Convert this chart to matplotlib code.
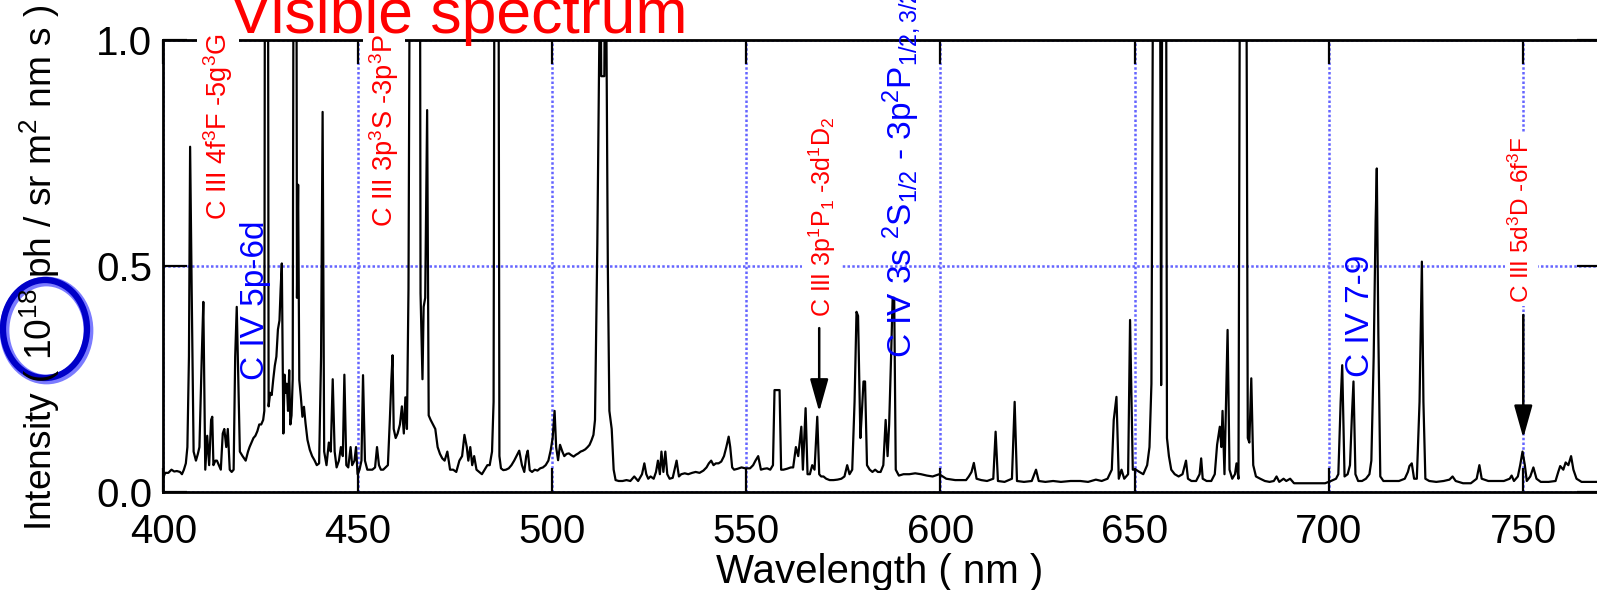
import matplotlib
matplotlib.use("Agg")
import matplotlib.pyplot as plt
from matplotlib.patches import Ellipse

plt.rcParams['font.family'] = ['Liberation Sans', 'DejaVu Sans']
plt.rcParams['mathtext.fontset'] = 'custom'
plt.rcParams['mathtext.rm'] = 'Liberation Sans'
plt.rcParams['mathtext.it'] = 'Liberation Sans:italic'
plt.rcParams['mathtext.bf'] = 'Liberation Sans:bold'

# spectrum, wavelength in nm and intensity in 1e18 ph / sr m2 nm s
wavelength = [
    400.0, 400.5, 401.3, 402.1, 402.8, 403.5, 404.3, 404.8, 405.3, 405.8,
    406.2, 406.6, 406.9, 407.3, 407.8, 408.4, 408.9, 409.3, 409.9, 410.3,
    410.8, 411.3, 411.8, 412.3, 412.6, 412.9, 413.4, 413.8, 414.3, 414.8,
    415.3, 415.7, 416.2, 416.6, 417.1, 417.6, 418.1, 418.5, 418.9, 419.3,
    419.7, 420.4, 421.2, 421.8, 422.2, 422.7, 423.2, 423.7, 424.2, 424.7,
    425.2, 425.7, 426.0, 426.2, 426.9, 427.1, 427.5, 427.9, 428.3, 428.7,
    429.1, 429.5, 429.9, 430.2, 430.5, 430.9, 431.2, 431.5, 431.8, 432.1,
    432.4, 432.7, 433.0, 433.3, 433.6, 434.2, 434.4, 434.7, 435.0, 435.4,
    435.8, 436.2, 436.6, 437.1, 437.7, 438.3, 438.9, 439.5, 440.1, 440.6,
    441.0, 441.4, 442.0, 442.6, 443.1, 443.6, 444.1, 444.6, 445.2, 445.7,
    446.2, 446.6, 447.1, 447.6, 448.2, 448.6, 449.2, 449.6, 450.0, 450.5,
    451.0, 451.4, 451.9, 452.5, 453.1, 453.8, 454.5, 455.0, 455.5, 456.0,
    456.6, 457.2, 457.8, 458.3, 458.7, 459.0, 459.3, 459.8, 460.3, 460.9,
    461.4, 461.9, 462.3, 462.7, 463.1, 463.6, 466.0, 466.2, 466.7, 467.0,
    467.4, 467.9, 468.3, 468.8, 469.4, 470.0, 470.6, 471.2, 471.8, 472.4,
    473.1, 473.8, 474.6, 475.4, 476.2, 476.9, 477.5, 478.1, 478.5, 479.0,
    479.5, 480.0, 480.6, 481.3, 482.0, 482.7, 483.4, 484.0, 484.6, 485.0,
    485.3, 486.2, 486.5, 486.9, 487.5, 488.2, 488.9, 489.6, 490.3, 490.9,
    491.6, 492.3, 492.9, 493.4, 493.8, 494.3, 494.9, 495.6, 496.3, 497.0,
    497.7, 498.4, 499.1, 499.7, 500.2, 500.7, 501.1, 501.6, 502.1, 502.7,
    503.2, 503.8, 504.4, 505.0, 505.6, 506.2, 506.8, 507.4, 508.0, 508.6,
    509.2, 509.7, 510.2, 510.7, 511.1, 511.7, 512.3, 512.6, 512.7, 513.5,
    513.6, 514.0, 514.4, 514.8, 515.4, 515.9, 516.4, 517.2, 518.2, 519.2,
    520.2, 521.2, 522.2, 523.2, 523.8, 524.3, 524.8, 525.4, 526.2, 526.8,
    527.3, 527.8, 528.2, 528.7, 529.2, 529.7, 530.3, 531.1, 532.1, 532.7,
    533.3, 534.2, 535.1, 536.1, 537.0, 538.0, 539.0, 539.8, 540.4, 541.0,
    541.6, 542.2, 542.9, 543.6, 544.3, 544.9, 545.5, 545.9, 546.4, 546.9,
    547.8, 548.8, 549.8, 551.0, 551.8, 552.4, 553.1, 553.8, 554.6, 555.4,
    556.2, 556.9, 557.3, 558.6, 559.0, 559.6, 560.5, 561.5, 562.1, 562.8,
    563.4, 564.2, 564.6, 565.3, 565.8, 566.4, 567.0, 567.6, 568.3, 568.8,
    569.3, 569.9, 570.6, 571.5, 572.5, 573.5, 574.5, 575.3, 576.0, 576.6,
    577.3, 577.9, 578.4, 578.8, 579.4, 579.8, 580.2, 580.6, 581.1, 581.8,
    582.5, 583.2, 583.9, 584.6, 585.3, 585.9, 586.4, 586.8, 587.3, 587.7,
    588.1, 588.5, 589.3, 590.5, 592.0, 593.5, 595.0, 596.5, 598.0, 599.7,
    601.5, 603.8, 606.6, 607.3, 608.0, 608.6, 609.3, 610.5, 612.0, 613.6,
    614.2, 614.8, 616.5, 618.4, 619.1, 619.7, 621.5, 623.5, 624.6, 625.3,
    627.0, 629.0, 631.0, 633.5, 636.0, 638.0, 640.0, 641.5, 643.0, 644.1,
    644.6, 645.3, 645.9, 646.6, 647.3, 648.3, 648.8, 649.5, 650.3, 651.2,
    652.2, 653.2, 653.8, 654.3, 654.9, 656.4, 656.8, 657.2, 658.0, 658.3,
    658.8, 659.4, 660.3, 661.3, 662.3, 663.2, 663.7, 664.6, 665.8, 666.7,
    667.1, 667.5, 668.5, 669.7, 670.6, 671.2, 671.9, 672.3, 672.6, 673.1,
    673.9, 674.4, 675.1, 675.8, 676.2, 676.7, 677.2, 678.6, 679.1, 679.5,
    680.0, 680.5, 681.2, 682.3, 683.5, 684.7, 685.8, 686.5, 687.2, 688.3,
    689.0, 690.0, 691.0, 693.0, 695.0, 697.0, 699.0, 700.5, 701.8, 702.4,
    703.0, 703.4, 704.0, 704.8, 705.4, 705.9, 706.3, 706.8, 707.5, 708.5,
    709.5, 710.4, 710.9, 711.5, 712.0, 712.3, 712.7, 713.2, 714.0, 716.0,
    718.0, 719.5, 720.3, 720.7, 721.3, 721.9, 722.6, 723.3, 723.9, 724.3,
    724.8, 725.8, 727.6, 729.5, 731.0, 731.8, 732.6, 734.5, 736.5, 738.0,
    738.7, 739.3, 741.0, 743.0, 745.0, 746.5, 747.0, 747.6, 748.6, 749.2,
    749.8, 750.4, 750.9, 751.8, 752.6, 753.4, 754.5, 756.5, 758.3, 759.0,
    759.5, 760.3, 760.9, 761.6, 762.3, 762.9, 763.7, 765.0, 767.0, 770.0,
]
intensity = [
    0.033, 0.043, 0.043, 0.050, 0.046, 0.047, 0.045, 0.040, 0.050, 0.064,
    0.100, 0.300, 0.764, 0.450, 0.090, 0.070, 0.085, 0.100, 0.300, 0.421,
    0.050, 0.125, 0.060, 0.160, 0.167, 0.060, 0.070, 0.070, 0.060, 0.050,
    0.130, 0.140, 0.100, 0.140, 0.050, 0.045, 0.050, 0.300, 0.410, 0.250,
    0.090, 0.080, 0.070, 0.090, 0.100, 0.110, 0.120, 0.125, 0.135, 0.150,
    0.150, 0.160, 0.180, 1.600, 1.600, 0.190, 0.220, 0.215, 0.250, 0.280,
    0.300, 0.360, 0.380, 0.450, 0.506, 0.130, 0.260, 0.220, 0.240, 0.180,
    0.270, 0.150, 0.170, 0.250, 1.600, 1.600, 0.430, 0.680, 0.248, 0.211,
    0.167, 0.189, 0.153, 0.116, 0.094, 0.080, 0.071, 0.060, 0.064, 0.300,
    0.841, 0.090, 0.060, 0.110, 0.090, 0.250, 0.090, 0.055, 0.070, 0.100,
    0.080, 0.260, 0.060, 0.055, 0.100, 0.060, 0.070, 0.100, 0.040, 0.050,
    0.070, 0.259, 0.070, 0.050, 0.050, 0.050, 0.055, 0.100, 0.060, 0.050,
    0.050, 0.055, 0.060, 0.160, 0.250, 0.303, 0.140, 0.120, 0.130, 0.150,
    0.190, 0.130, 0.210, 0.140, 0.450, 1.600, 1.600, 0.440, 0.250, 0.410,
    0.430, 0.845, 0.170, 0.160, 0.150, 0.140, 0.100, 0.085, 0.075, 0.070,
    0.090, 0.050, 0.050, 0.045, 0.070, 0.080, 0.127, 0.100, 0.070, 0.100,
    0.060, 0.080, 0.050, 0.045, 0.040, 0.050, 0.060, 0.060, 0.090, 0.200,
    1.600, 1.600, 0.080, 0.053, 0.049, 0.050, 0.053, 0.060, 0.070, 0.080,
    0.092, 0.060, 0.045, 0.080, 0.092, 0.049, 0.045, 0.050, 0.048, 0.053,
    0.055, 0.060, 0.070, 0.093, 0.120, 0.180, 0.100, 0.071, 0.105, 0.090,
    0.080, 0.085, 0.086, 0.082, 0.079, 0.083, 0.086, 0.090, 0.092, 0.095,
    0.100, 0.105, 0.115, 0.127, 0.160, 0.550, 1.080, 1.080, 0.920, 0.920,
    1.080, 1.080, 0.500, 0.180, 0.140, 0.050, 0.027, 0.025, 0.025, 0.027,
    0.025, 0.035, 0.025, 0.040, 0.064, 0.040, 0.030, 0.035, 0.030, 0.045,
    0.070, 0.040, 0.090, 0.045, 0.090, 0.040, 0.030, 0.032, 0.070, 0.035,
    0.040, 0.042, 0.040, 0.043, 0.045, 0.043, 0.048, 0.055, 0.064, 0.070,
    0.060, 0.064, 0.064, 0.068, 0.080, 0.100, 0.123, 0.100, 0.055, 0.050,
    0.052, 0.055, 0.053, 0.053, 0.060, 0.070, 0.080, 0.050, 0.052, 0.053,
    0.050, 0.060, 0.226, 0.226, 0.050, 0.050, 0.052, 0.055, 0.055, 0.100,
    0.080, 0.145, 0.050, 0.186, 0.040, 0.040, 0.060, 0.050, 0.167, 0.040,
    0.035, 0.035, 0.030, 0.027, 0.027, 0.028, 0.030, 0.035, 0.060, 0.040,
    0.050, 0.200, 0.399, 0.390, 0.120, 0.180, 0.245, 0.245, 0.060, 0.050,
    0.045, 0.050, 0.045, 0.045, 0.060, 0.160, 0.080, 0.150, 0.300, 0.430,
    0.430, 0.050, 0.037, 0.040, 0.040, 0.042, 0.040, 0.037, 0.035, 0.040,
    0.030, 0.027, 0.027, 0.035, 0.045, 0.065, 0.030, 0.027, 0.025, 0.030,
    0.134, 0.025, 0.023, 0.030, 0.200, 0.025, 0.023, 0.025, 0.050, 0.025,
    0.023, 0.025, 0.023, 0.025, 0.025, 0.023, 0.028, 0.025, 0.030, 0.050,
    0.160, 0.211, 0.030, 0.050, 0.030, 0.040, 0.381, 0.050, 0.050, 0.045,
    0.040, 0.060, 0.100, 0.240, 1.600, 1.600, 0.237, 1.600, 1.600, 0.120,
    0.080, 0.050, 0.040, 0.035, 0.040, 0.070, 0.030, 0.025, 0.025, 0.040,
    0.075, 0.030, 0.025, 0.025, 0.040, 0.105, 0.145, 0.100, 0.180, 0.040,
    0.359, 0.050, 0.030, 0.040, 0.064, 0.030, 1.600, 1.600, 0.120, 0.110,
    0.252, 0.060, 0.035, 0.030, 0.025, 0.023, 0.025, 0.035, 0.023, 0.030,
    0.025, 0.030, 0.020, 0.020, 0.020, 0.020, 0.020, 0.025, 0.030, 0.040,
    0.200, 0.281, 0.035, 0.040, 0.060, 0.170, 0.245, 0.040, 0.025, 0.025,
    0.030, 0.040, 0.070, 0.300, 0.600, 0.716, 0.350, 0.035, 0.025, 0.025,
    0.025, 0.030, 0.045, 0.058, 0.064, 0.030, 0.030, 0.200, 0.510, 0.200,
    0.030, 0.025, 0.023, 0.025, 0.028, 0.035, 0.025, 0.020, 0.020, 0.030,
    0.060, 0.030, 0.025, 0.025, 0.025, 0.030, 0.037, 0.025, 0.035, 0.060,
    0.090, 0.060, 0.025, 0.035, 0.055, 0.030, 0.023, 0.023, 0.025, 0.045,
    0.058, 0.050, 0.066, 0.060, 0.080, 0.050, 0.030, 0.023, 0.023, 0.023,
]

x_ticks = [400, 450, 500, 550, 600, 650, 700, 750]
y_ticks = [0.0, 0.5, 1.0]
y_tick_labels = ['0.0', '0.5', '1.0']

# line identifications: text, wavelength, bottom of text, font size
red_labels = [
    (r'C III 4f$^{3}$F -5g$^{3}$G', 414.0, 0.602, 19.5),
    (r'C III 3p$^{3}$S -3p$^{3}$P', 456.8, 0.587, 19.5),
    (r'C III 3p$^{1}$P$_{1}$ -3d$^{1}$D$_{2}$', 569.5, 0.388, 18),
    (r'C III 5d$^{3}$D -6f$^{3}$F', 749.5, 0.419, 17.5),
]
blue_labels = [
    ('C IV 5p-6d', 423.6, 0.248, 24),
    (r'C IV 3s $^{2}$S$_{1/2}$ - 3p$^{2}$P$_{1/2,3/2}$', 590.0, 0.297, 24),
    ('C IV 7-9', 708.0, 0.255, 24),
]
# arrows: wavelength, tail, tip
arrows = [(568.8, 0.363, 0.178), (750.0, 0.392, 0.120)]

W, H = 1597, 590
fig = plt.figure(figsize=(W / 100, H / 100), dpi=100)
ax = fig.add_axes([163.3 / W, 1 - 492.3 / H, (1601 - 163.3) / W, (492.3 - 40) / H])

ax.plot(wavelength, intensity, color='black', lw=1.6, zorder=2)

ax.set_xlim(400, 770)
ax.set_ylim(0, 1)
ax.set_xticks(x_ticks)
ax.set_yticks(y_ticks)
ax.set_yticklabels(y_tick_labels)
ax.tick_params(direction='in', length=17, width=1.6, top=True, right=True,
               labelsize=29)
ax.tick_params(axis='x', pad=15)
ax.tick_params(axis='y', pad=8)
for s in ax.spines.values():
    s.set_linewidth(2)
ax.spines['right'].set_visible(False)

ax.set_axisbelow(True)
ax.grid(True, color='#6464ff', linestyle=(0, (1, 0.9)), linewidth=1.8)

for txt, x, y, fs in red_labels:
    ax.text(x, y, txt, color='red', fontsize=fs, rotation=90, ha='center',
            va='bottom', zorder=4,
            bbox=dict(boxstyle='square,pad=0.15', fc='white', ec='none'))
for txt, x, y, fs in blue_labels:
    ax.text(x, y, txt, color='blue', fontsize=fs, rotation=90, ha='center',
            va='bottom', zorder=4)
for x, y0, y1 in arrows:
    ax.annotate('', xy=(x, y1), xytext=(x, y0), zorder=5,
                arrowprops=dict(arrowstyle='-|>,head_length=1.0,head_width=0.28',
                                mutation_scale=20, color='black', lw=1.8,
                                shrinkA=0, shrinkB=0))

fig.text(230 / W, 1 - 33 / H, 'Visible spectrum', color='red', fontsize=45,
         ha='left', va='baseline')
fig.text(880 / W, 1 - 583 / H, 'Wavelength ( nm )', fontsize=29,
         ha='center', va='baseline')
fig.text(40 / W, 1 - 268 / H,
         r'Intensity ( 10$^{18}$ ph / sr m$^{2}$ nm s )',
         fontsize=26.7, rotation=90, ha='center', va='center')

# hand-drawn style circle around the exponent
for lw, col, off in [(7, '#7b7bff', 1.5), (4.5, '#0000c8', 0)]:
    fig.add_artist(Ellipse(((45 + off) / W, 1 - (329 + off) / H), 84 / W, 98 / H,
                           transform=fig.transFigure, fill=False,
                           ec=col, lw=lw))

fig.savefig('out.png', dpi=100)
